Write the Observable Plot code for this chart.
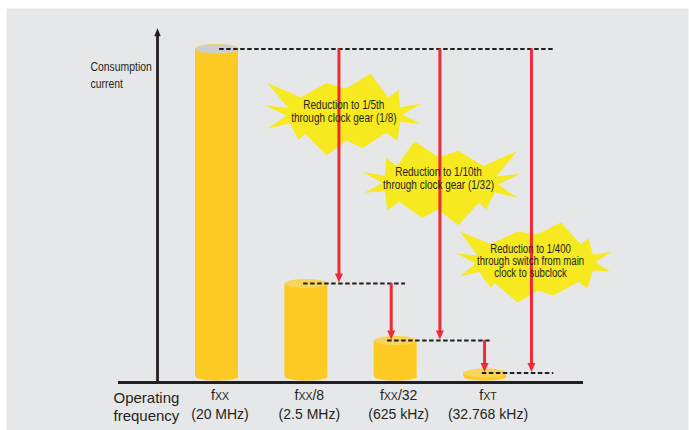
<!DOCTYPE html>
<html><head><meta charset="utf-8">
<script src="https://cdn.jsdelivr.net/npm/d3@7"></script>
<script src="https://cdn.jsdelivr.net/npm/@observablehq/plot@0.6"></script>
<style>html,body{margin:0;padding:0;background:#fff;} svg{display:block}</style>
</head><body><div id="chart"></div>
<script>
// ---- data (relative current, picture not to scale) ----
const categories = ["fXX", "fXX/8", "fXX/32", "fXT"];
const frequencies = ["(20 MHz)", "(2.5 MHz)", "(625 kHz)", "(32.768 kHz)"];
const current = [100, 28.4, 11.0, 1.1];
// reduction arrows: from level of one clock to level of another, at x (category index units)
const arrowFrom = [0, 1, 0, 2, 0];
const arrowTo   = [1, 2, 2, 3, 3];
const arrowAt   = [1.365, 1.95, 2.495, 2.995, 3.52];
// dashed guide lines at each level
const guideLevel = [0, 1, 2, 3];
const guideStart = [0.03, 0.97, 1.91, 2.97];
const guideEnd   = [3.77, 2.11, 3.08, 3.77];
// callout notes
const noteText = [
  "Reduction to 1/5th\nthrough clock gear (1/8)",
  "Reduction to 1/10th\nthrough clock gear (1/32)",
  "Reduction to 1/400\nthrough switch from main\nclock to subclock"
];
const noteX = [1.42, 2.48, 3.51];
const noteY = [81.1, 60.5, 35.1];
const starX = [1.427, 2.50, 3.565];
const starY = [80.0, 59.0, 34.8];
const yAxisLabel = "Consumption\ncurrent";
const xAxisLabel = "Operating\nfrequency";

// ---- scales ----
const xDomain = [0, 3], xRange = [216.5, 484.5];
const yDomain = [0, 100], yRange = [376, 48.5];
const unitsPerPx = (yDomain[1] - yDomain[0]) / (yRange[0] - yRange[1]);
const xUnitsPerPx = (xDomain[1] - xDomain[0]) / (xRange[1] - xRange[0]);
const barHalf = 21.5 * xUnitsPerPx;

const bars = categories.map((c, i) => ({i, name: c, freq: frequencies[i], current: current[i]}));
const arrows = arrowAt.map((x, k) => ({x, from: current[arrowFrom[k]], to: current[arrowTo[k]]}));
const guides = guideLevel.map((l, k) => ({y: current[l], x1: guideStart[k], x2: guideEnd[k]}));
const notes = noteText.map((t, k) => ({text: t, x: noteX[k], y: noteY[k], sx: starX[k], sy: starY[k]}));

const axisY = -1.8;      // baseline level
const axisX = -0.666;    // vertical axis position
const axisTop = 106.3;

// ---- custom glyphs ----
function ellipseSymbol(rx, ry) {
  const k = 0.5523;
  return {draw(ctx) {
    ctx.moveTo(rx, 0);
    ctx.bezierCurveTo(rx, k*ry, k*rx, ry, 0, ry);
    ctx.bezierCurveTo(-k*rx, ry, -rx, k*ry, -rx, 0);
    ctx.bezierCurveTo(-rx, -k*ry, -k*rx, -ry, 0, -ry);
    ctx.bezierCurveTo(k*rx, -ry, rx, -k*ry, rx, 0);
    ctx.closePath();
  }};
}
function triangleSymbol(w, h, up) {
  const s = up ? 1 : -1;
  return {draw(ctx) {
    ctx.moveTo(0, 0);
    ctx.lineTo(-w/2, s*h);
    ctx.lineTo(w/2, s*h);
    ctx.closePath();
  }};
}
const starTips = [[-77,-31],[-18,-31],[26,-40],[54,-24],[78,-11],[76,9],[53,26],[18,33],[-18,40],[-46,25],[-77,14],[-80,-9]];
function starSymbol(sx, sy, irx, iry, flip) {
  const pts = starTips.map(([x, y]) => [x*sx*(flip ? -1 : 1), y*sy])
    .map(p => [p, Math.atan2(p[1], p[0])]).sort((a, b) => a[1] - b[1]);
  return {draw(ctx) {
    const n = pts.length;
    for (let k = 0; k < n; k++) {
      const [p, a] = pts[k];
      const b = pts[(k+1) % n][1] + (k === n-1 ? 2*Math.PI : 0);
      const m = (a + b) / 2;
      if (k === 0) ctx.moveTo(p[0], p[1]); else ctx.lineTo(p[0], p[1]);
      ctx.lineTo(irx*Math.cos(m), iry*Math.sin(m));
    }
    ctx.closePath();
  }};
}
const stars = [starSymbol(1, 1.02, 58, 26, false), starSymbol(1.0, 1.05, 58, 26, true), starSymbol(0.98, 1.0, 60, 28, false)];

const narrow = "'Liberation Sans Narrow', 'Arial Narrow', 'Liberation Sans', Arial, sans-serif";
const regular = "'Liberation Sans', Arial, Helvetica, sans-serif";
const ink = "#231f20";
const yellow = "#fcca23";
const red = "#ee2a36";
const starYellow = "#f6e91f";

const plot = Plot.plot({
  width: 689, height: 430,
  marginTop: 8, marginLeft: 6, marginRight: 1, marginBottom: 0,
  style: {background: "transparent", fontFamily: regular},
  x: {type: "linear", domain: xDomain, range: xRange, axis: null},
  y: {type: "linear", domain: yDomain, range: yRange, axis: null},
  marks: [
    Plot.frame({fill: "#e6e7e8", stroke: "none"}),
    // starbursts
    ...notes.map((d, k) => Plot.dot([d], {x: "sx", y: "sy", r: 10, symbol: stars[k], fill: starYellow, stroke: "none"})),
    // cylinders
    Plot.dot(bars, {x: "i", y: 0, r: 10, symbol: ellipseSymbol(21.5, 4.2), fill: yellow, stroke: "none"}),
    Plot.rect(bars, {x1: d => d.i - barHalf, x2: d => d.i + barHalf, y1: 0, y2: "current", fill: yellow}),
    Plot.dot(bars, {x: "i", y: "current", r: 10, symbol: ellipseSymbol(21.5, 4.5),
      fill: d => d.i === 0 ? "#cbced3" : "#f8d458", stroke: d => d.i === 0 ? "#ecd06a" : "none", strokeWidth: 1}),
    // dashed guide lines
    Plot.ruleY(guides, {y: "y", x1: "x1", x2: "x2", stroke: ink, strokeWidth: 2, strokeDasharray: "4.5,2.5"}),
    // red reduction arrows
    Plot.ruleX(arrows, {x: "x", y1: "from", y2: d => d.to + 7 * unitsPerPx, stroke: red, strokeWidth: 3}),
    Plot.dot(arrows, {x: "x", y: "to", r: 10, dy: -1, symbol: triangleSymbol(8, 9, false), fill: red, stroke: "none"}),
    // note texts
    ...notes.map((d, k) => Plot.text([d], {x: "x", y: "y", text: "text", fontFamily: narrow,
      fontSize: [12.5, 12.5, 12][k], lineHeight: [1.04, 1.0, 1.0][k], fill: ink, lineAnchor: "middle"})),
    // axes
    Plot.ruleY([axisY], {x1: -1.103, x2: 4.103, stroke: ink, strokeWidth: 3}),
    Plot.ruleX([axisX], {y1: axisY, y2: axisTop - 6 * unitsPerPx, stroke: ink, strokeWidth: 2.8}),
    Plot.dot([axisX], {x: d => d, y: axisTop, r: 10, symbol: triangleSymbol(6.5, 8, true), fill: ink, stroke: "none"}),
    Plot.text([yAxisLabel], {x: -1.416, y: 92.4, text: d => d, textAnchor: "start", fontFamily: narrow, fontSize: 13, lineHeight: 1.31, fill: ink}),
    Plot.text([xAxisLabel], {x: -1.159, y: -9.16, text: d => d, textAnchor: "start", fontSize: 15, lineHeight: 1.2, fill: ink}),
    // category labels
    Plot.text(bars, {x: "i", y: -8.1, dx: 3, text: d => d.name + "\n" + d.freq, fontSize: 14, lineHeight: 1.36, fill: ink})
  ]
});

// small-caps subscript letters in clock names (fXX, fXT)
d3.select(plot).selectAll("tspan, text").each(function() {
  const el = this;
  if (el.children && el.children.length) return;
  const t = el.textContent;
  const m = /^f(XX|XT)(.*)$/.exec(t);
  if (!m) return;
  el.textContent = "f";
  const sub = document.createElementNS("http://www.w3.org/2000/svg", "tspan");
  sub.setAttribute("font-size", "10.5");
  sub.textContent = m[1];
  el.appendChild(sub);
  if (m[2]) {
    const rest = document.createElementNS("http://www.w3.org/2000/svg", "tspan");
    rest.textContent = m[2];
    el.appendChild(rest);
  }
});

// condensed lettering: no narrow face is installed, so compress the regular face horizontally
d3.select(plot).selectAll("g[font-family*='Narrow'] text").each(function() {
  const tr = this.getAttribute("transform") || "";
  this.setAttribute("transform", tr + " scale(0.8,1)");
});

document.getElementById("chart").appendChild(plot);
</script>
</body></html>
